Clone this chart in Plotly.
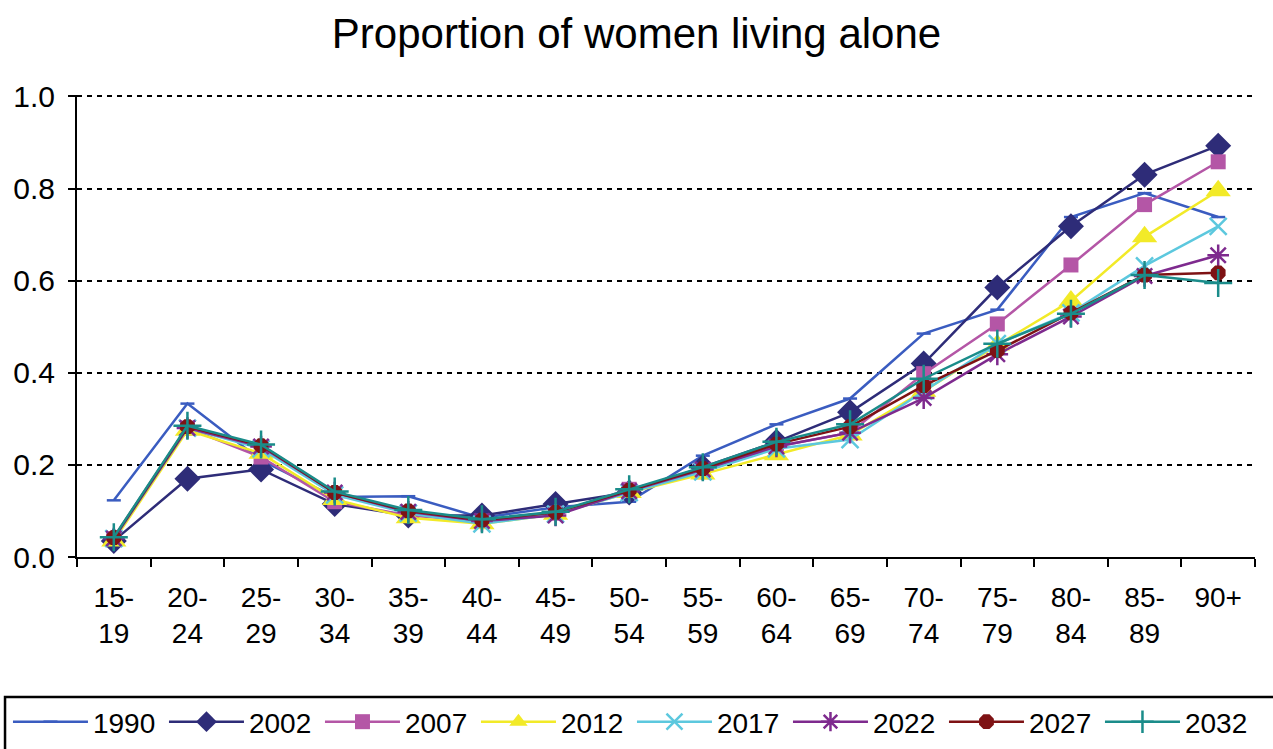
import plotly.graph_objects as go

# Age bands on the x axis
age_groups = ["15-19", "20-24", "25-29", "30-34", "35-39", "40-44", "45-49", "50-54",
              "55-59", "60-64", "65-69", "70-74", "75-79", "80-84", "85-89", "90+"]
tick_text = ["15-<br>19", "20-<br>24", "25-<br>29", "30-<br>34", "35-<br>39", "40-<br>44",
             "45-<br>49", "50-<br>54", "55-<br>59", "60-<br>64", "65-<br>69", "70-<br>74",
             "75-<br>79", "80-<br>84", "85-<br>89", "90+"]

# Proportion of women living alone, by year
y1990 = [0.123, 0.333, 0.21, 0.13, 0.132, 0.085, 0.108, 0.12, 0.22, 0.288, 0.344, 0.485, 0.537, 0.738, 0.79, 0.738]
y2002 = [0.035, 0.17, 0.19, 0.115, 0.09, 0.09, 0.115, 0.14, 0.195, 0.25, 0.314, 0.42, 0.585, 0.718, 0.83, 0.893]
y2007 = [0.04, 0.28, 0.217, 0.12, 0.09, 0.078, 0.095, 0.147, 0.185, 0.24, 0.27, 0.398, 0.506, 0.634, 0.765, 0.858]
y2012 = [0.035, 0.275, 0.225, 0.125, 0.085, 0.072, 0.093, 0.14, 0.18, 0.222, 0.265, 0.36, 0.46, 0.556, 0.695, 0.795]
y2017 = [0.04, 0.28, 0.235, 0.135, 0.095, 0.072, 0.093, 0.14, 0.185, 0.235, 0.255, 0.36, 0.463, 0.53, 0.632, 0.718]
y2022 = [0.04, 0.28, 0.24, 0.14, 0.098, 0.078, 0.09, 0.143, 0.19, 0.24, 0.27, 0.345, 0.44, 0.522, 0.61, 0.655]
y2027 = [0.042, 0.283, 0.242, 0.14, 0.1, 0.08, 0.097, 0.145, 0.192, 0.245, 0.283, 0.372, 0.448, 0.53, 0.612, 0.617]
y2032 = [0.043, 0.285, 0.244, 0.142, 0.102, 0.082, 0.098, 0.147, 0.195, 0.25, 0.288, 0.387, 0.463, 0.528, 0.612, 0.595]

years = ["1990", "2002", "2007", "2012", "2017", "2022", "2027", "2032"]
values = [y1990, y2002, y2007, y2012, y2017, y2022, y2027, y2032]

# (color, marker symbol, marker size)
styles = [
    ("#3A5CC0", "line-ew", 10),
    ("#2E2C78", "diamond", 20),
    ("#B456A6", "square", 15),
    ("#F2EA28", "triangle-up", 22),
    ("#5CC8DE", "x-thin", 17),
    ("#7E2A8E", "asterisk", 18),
    ("#7E1214", "octagon", 16),
    ("#1A8C8A", "cross-thin", 20),
]

fig = go.Figure()
for year, vals, (color, symbol, size) in zip(years, values, styles):
    thin = symbol in ("line-ew", "x-thin", "asterisk", "cross-thin")
    fig.add_trace(go.Scatter(
        x=age_groups, y=vals, name=year, mode="lines+markers",
        line=dict(color=color, width=2.5),
        marker=dict(symbol=symbol, size=size, color=color,
                    line=dict(color=color, width=2.5 if thin else 0)),
    ))

font_family = "Liberation Sans, Arial, sans-serif"

fig.update_layout(
    width=1273, height=749,
    margin=dict(l=77, r=18, t=95, b=192, autoexpand=False),
    paper_bgcolor="white", plot_bgcolor="white",
    font=dict(family=font_family, color="black", size=28),
    title=dict(text="Proportion of women living alone", x=0.5, xanchor="center",
               y=1 - 33 / 749, yanchor="middle", font=dict(size=42)),
    showlegend=True,
    legend=dict(orientation="h", x=-0.0586, xanchor="left",
                y=-0.303, yanchor="top",
                font=dict(size=28), borderwidth=0, bgcolor="rgba(0,0,0,0)",
                entrywidth=66, itemwidth=75),
    shapes=[dict(type="rect", xref="paper", yref="paper",
                 x0=-0.0611, x1=1.05, y0=-0.303, y1=-0.5,
                 line=dict(color="black", width=2.5), layer="above")],
)

fig.update_xaxes(
    type="category", range=[-0.5, 15.5],
    tickmode="array", tickvals=age_groups, ticktext=tick_text,
    tickson="boundaries", ticks="outside", ticklen=8, tickwidth=2, tickcolor="black",
    showline=True, linecolor="black", linewidth=2, showgrid=False,
    tickfont=dict(size=28), ticklabelstandoff=14,
)
fig.update_yaxes(
    range=[0, 1.003], tickvals=[0, 0.2, 0.4, 0.6, 0.8, 1.0],
    ticktext=["0.0", "0.2", "0.4", "0.6", "0.8", "1.0"],
    ticks="outside", ticklen=7, tickwidth=2, tickcolor="black",
    showline=True, linecolor="black", linewidth=2,
    showgrid=True, gridcolor="black", gridwidth=2, griddash="5px,5px",
    zeroline=False, tickfont=dict(size=30), ticklabelstandoff=7,
)

fig.write_html("out.html")
